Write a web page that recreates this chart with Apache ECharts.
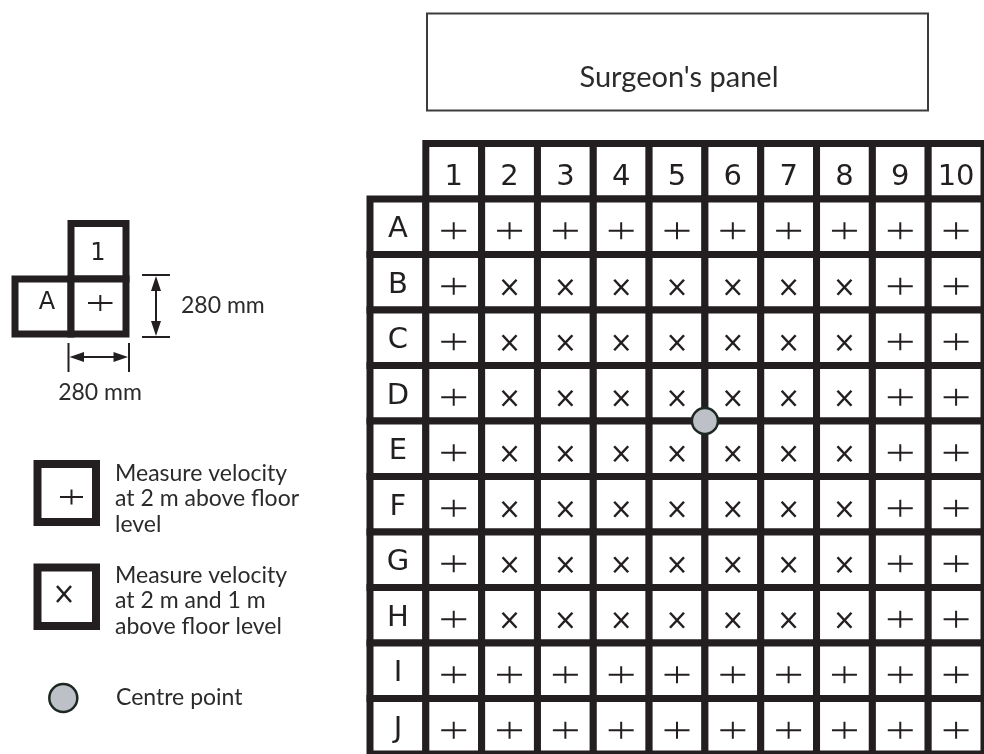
<!DOCTYPE html>
<html>
<head>
<meta charset="utf-8">
<title>Surgeon's panel measuring grid</title>
<script src="https://cdn.jsdelivr.net/npm/echarts@6.0.0/dist/echarts.min.js"></script>
<style>
  html, body { margin: 0; padding: 0; background: #fff; }
  #main { width: 984px; height: 754px; }
</style>
</head>
<body>
<div id="main"></div>
<script>
var columns = ['1', '2', '3', '4', '5', '6', '7', '8', '9', '10'];
var rows = ['A', 'B', 'C', 'D', 'E', 'F', 'G', 'H', 'I', 'J'];
// one string per row: '+' = measure at 2 m, 'x' = measure at 2 m and 1 m
var marks = [
  '++++++++++',
  '+xxxxxxx++',
  '+xxxxxxx++',
  '+xxxxxxx++',
  '+xxxxxxx++',
  '+xxxxxxx++',
  '+xxxxxxx++',
  '+xxxxxxx++',
  '++++++++++',
  '++++++++++'
];
// centre point sits where these columns and rows meet
var centreCols = ['5', '6'];
var centreRows = ['D', 'E'];

var ink = '#231f20';
var textInk = '#2b2b2b';
var xCats = ['#'].concat(columns);
var yCats = ['#'].concat(rows);

// header cells, row label cells and the measuring cells
var cells = [];
columns.forEach(function (c) {
  cells.push({ value: [xCats.indexOf(c), 0], kind: 'head', text: c });
});
rows.forEach(function (r, j) {
  cells.push({ value: [0, yCats.indexOf(r)], kind: 'label', text: r });
  columns.forEach(function (c, i) {
    cells.push({ value: [xCats.indexOf(c), yCats.indexOf(r)], kind: marks[j][i] });
  });
});

function plusShape (cx, cy, w, h) {
  return [
    { type: 'line', shape: { x1: cx - w / 2, y1: cy, x2: cx + w / 2, y2: cy }, style: { stroke: ink, lineWidth: 2 } },
    { type: 'line', shape: { x1: cx, y1: cy - h / 2, x2: cx, y2: cy + h / 2 }, style: { stroke: ink, lineWidth: 2 } }
  ];
}
function crossShape (cx, cy, w, h) {
  return [
    { type: 'line', shape: { x1: cx - w / 2, y1: cy - h / 2, x2: cx + w / 2, y2: cy + h / 2 }, style: { stroke: ink, lineWidth: 2.5 } },
    { type: 'line', shape: { x1: cx + w / 2, y1: cy - h / 2, x2: cx - w / 2, y2: cy + h / 2 }, style: { stroke: ink, lineWidth: 2.5 } }
  ];
}

function renderCell (params, api) {
  var cell = cells[params.dataIndex];
  var p = api.coord([api.value(0), api.value(1)]);
  var s = api.size([1, 1]);
  var children = [{
    type: 'rect',
    shape: { x: p[0] - s[0] / 2, y: p[1] - s[1] / 2, width: s[0], height: s[1] },
    style: { fill: '#fff', stroke: ink, lineWidth: 7 }
  }];
  if (cell.kind === '+') {
    children = children.concat(plusShape(p[0], p[1] + 4, 25, 17));
  } else if (cell.kind === 'x') {
    children = children.concat(crossShape(p[0], p[1] + 5, 14, 15));
  } else {
    children.push({
      type: 'text',
      style: {
        text: cell.text,
        x: p[0],
        y: p[1] + (cell.kind === 'head' ? 6 : 3),
        font: '29px "DejaVu Sans"',
        fill: ink,
        align: 'center',
        verticalAlign: 'middle'
      }
    });
  }
  return { type: 'group', children: children };
}

function renderCentre (params, api) {
  var a = api.coord([api.value(0), api.value(1)]);
  var b = api.coord([api.value(2), api.value(3)]);
  return {
    type: 'circle',
    shape: { cx: (a[0] + b[0]) / 2, cy: (a[1] + b[1]) / 2, r: 13 },
    style: { fill: '#bdc1c7', stroke: '#1e2822', lineWidth: 2.5 }
  };
}

var legendFont = '23px Lato';

var keyGraphics = [
  // surgeon's panel
  { type: 'rect', shape: { x: 427, y: 13.5, width: 501, height: 97 }, style: { fill: '#fff', stroke: '#3c3c3c', lineWidth: 2 } },
  { type: 'text', style: { text: "Surgeon's panel", x: 679, y: 78, font: '29px Lato', fill: textInk, align: 'center', verticalAlign: 'middle' } },

  // small sample cells
  { type: 'rect', shape: { x: 71, y: 223.5, width: 55, height: 55.5 }, style: { fill: '#fff', stroke: ink, lineWidth: 7 } },
  { type: 'rect', shape: { x: 15, y: 279, width: 56, height: 55 }, style: { fill: '#fff', stroke: ink, lineWidth: 7 } },
  { type: 'rect', shape: { x: 71, y: 279, width: 55, height: 55 }, style: { fill: '#fff', stroke: ink, lineWidth: 7 } },
  { type: 'text', style: { text: '1', x: 98, y: 254, font: '24px "DejaVu Sans"', fill: ink, align: 'center', verticalAlign: 'middle' } },
  { type: 'text', style: { text: 'A', x: 47, y: 303, font: '24px "DejaVu Sans"', fill: ink, align: 'center', verticalAlign: 'middle' } },
  { type: 'line', shape: { x1: 88, y1: 303, x2: 112.5, y2: 303 }, style: { stroke: ink, lineWidth: 2 } },
  { type: 'line', shape: { x1: 100.3, y1: 295, x2: 100.3, y2: 311 }, style: { stroke: ink, lineWidth: 2 } },

  // vertical dimension
  { type: 'line', shape: { x1: 142, y1: 275, x2: 170, y2: 275 }, style: { stroke: ink, lineWidth: 2 } },
  { type: 'line', shape: { x1: 142, y1: 337, x2: 170, y2: 337 }, style: { stroke: ink, lineWidth: 2 } },
  { type: 'line', shape: { x1: 156, y1: 285, x2: 156, y2: 327 }, style: { stroke: ink, lineWidth: 2 } },
  { type: 'polygon', shape: { points: [[156, 276], [151, 291], [161, 291]] }, style: { fill: ink } },
  { type: 'polygon', shape: { points: [[156, 336], [151, 321], [161, 321]] }, style: { fill: ink } },
  { type: 'text', style: { text: '280 mm', x: 181, y: 306, font: legendFont, fill: textInk, verticalAlign: 'middle' } },

  // horizontal dimension
  { type: 'line', shape: { x1: 68.5, y1: 343, x2: 68.5, y2: 372 }, style: { stroke: ink, lineWidth: 2 } },
  { type: 'line', shape: { x1: 129, y1: 343, x2: 129, y2: 372 }, style: { stroke: ink, lineWidth: 2 } },
  { type: 'line', shape: { x1: 78, y1: 357, x2: 120, y2: 357 }, style: { stroke: ink, lineWidth: 2 } },
  { type: 'polygon', shape: { points: [[69.5, 357], [84, 352], [84, 362]] }, style: { fill: ink } },
  { type: 'polygon', shape: { points: [[128, 357], [113.5, 352], [113.5, 362]] }, style: { fill: ink } },
  { type: 'text', style: { text: '280 mm', x: 100, y: 393, font: legendFont, fill: textInk, align: 'center', verticalAlign: 'middle' } },

  // key: 2 m only
  { type: 'rect', shape: { x: 37.5, y: 464, width: 58.5, height: 58 }, style: { fill: '#fff', stroke: ink, lineWidth: 8 } },
  { type: 'line', shape: { x1: 60, y1: 497, x2: 83, y2: 497 }, style: { stroke: ink, lineWidth: 2 } },
  { type: 'line', shape: { x1: 71.5, y1: 489.5, x2: 71.5, y2: 504.5 }, style: { stroke: ink, lineWidth: 2 } },
  { type: 'text', style: { text: 'Measure velocity\nat 2 m above floor\nlevel', x: 115, y: 499, font: legendFont, lineHeight: 25.5, fill: textInk, verticalAlign: 'middle' } },

  // key: 2 m and 1 m
  { type: 'rect', shape: { x: 37.5, y: 567.5, width: 58.5, height: 58.5 }, style: { fill: '#fff', stroke: ink, lineWidth: 8 } },
  { type: 'line', shape: { x1: 57, y1: 586, x2: 71, y2: 602 }, style: { stroke: ink, lineWidth: 2.5 } },
  { type: 'line', shape: { x1: 71, y1: 586, x2: 57, y2: 602 }, style: { stroke: ink, lineWidth: 2.5 } },
  { type: 'text', style: { text: 'Measure velocity\nat 2 m and 1 m\nabove floor level', x: 115, y: 601, font: legendFont, lineHeight: 25.5, fill: textInk, verticalAlign: 'middle' } },

  // key: centre point
  { type: 'circle', shape: { cx: 63.3, cy: 698, r: 14 }, style: { fill: '#bdc1c7', stroke: '#1e2822', lineWidth: 2.5 } },
  { type: 'text', style: { text: 'Centre point', x: 116, y: 698, font: legendFont, fill: textInk, verticalAlign: 'middle' } }
];

var myChart = echarts.init(document.getElementById('main'));
var option = {
  backgroundColor: '#fff',
  animation: false,
  grid: {
    left: 370,
    top: 143.5,
    width: 618,
    height: 614.5
  },
  xAxis: {
    type: 'category',
    data: xCats,
    show: false
  },
  yAxis: {
    type: 'category',
    data: yCats,
    inverse: true,
    show: false
  },
  graphic: keyGraphics,
  series: [
    {
      name: 'cells',
      type: 'custom',
      renderItem: renderCell,
      data: cells.map(function (c) { return c.value; }),
      z: 2
    },
    {
      name: 'centre',
      type: 'custom',
      renderItem: renderCentre,
      data: [[
        xCats.indexOf(centreCols[0]), yCats.indexOf(centreRows[0]),
        xCats.indexOf(centreCols[1]), yCats.indexOf(centreRows[1])
      ]],
      z: 3
    }
  ]
};
myChart.setOption(option);
</script>
</body>
</html>
